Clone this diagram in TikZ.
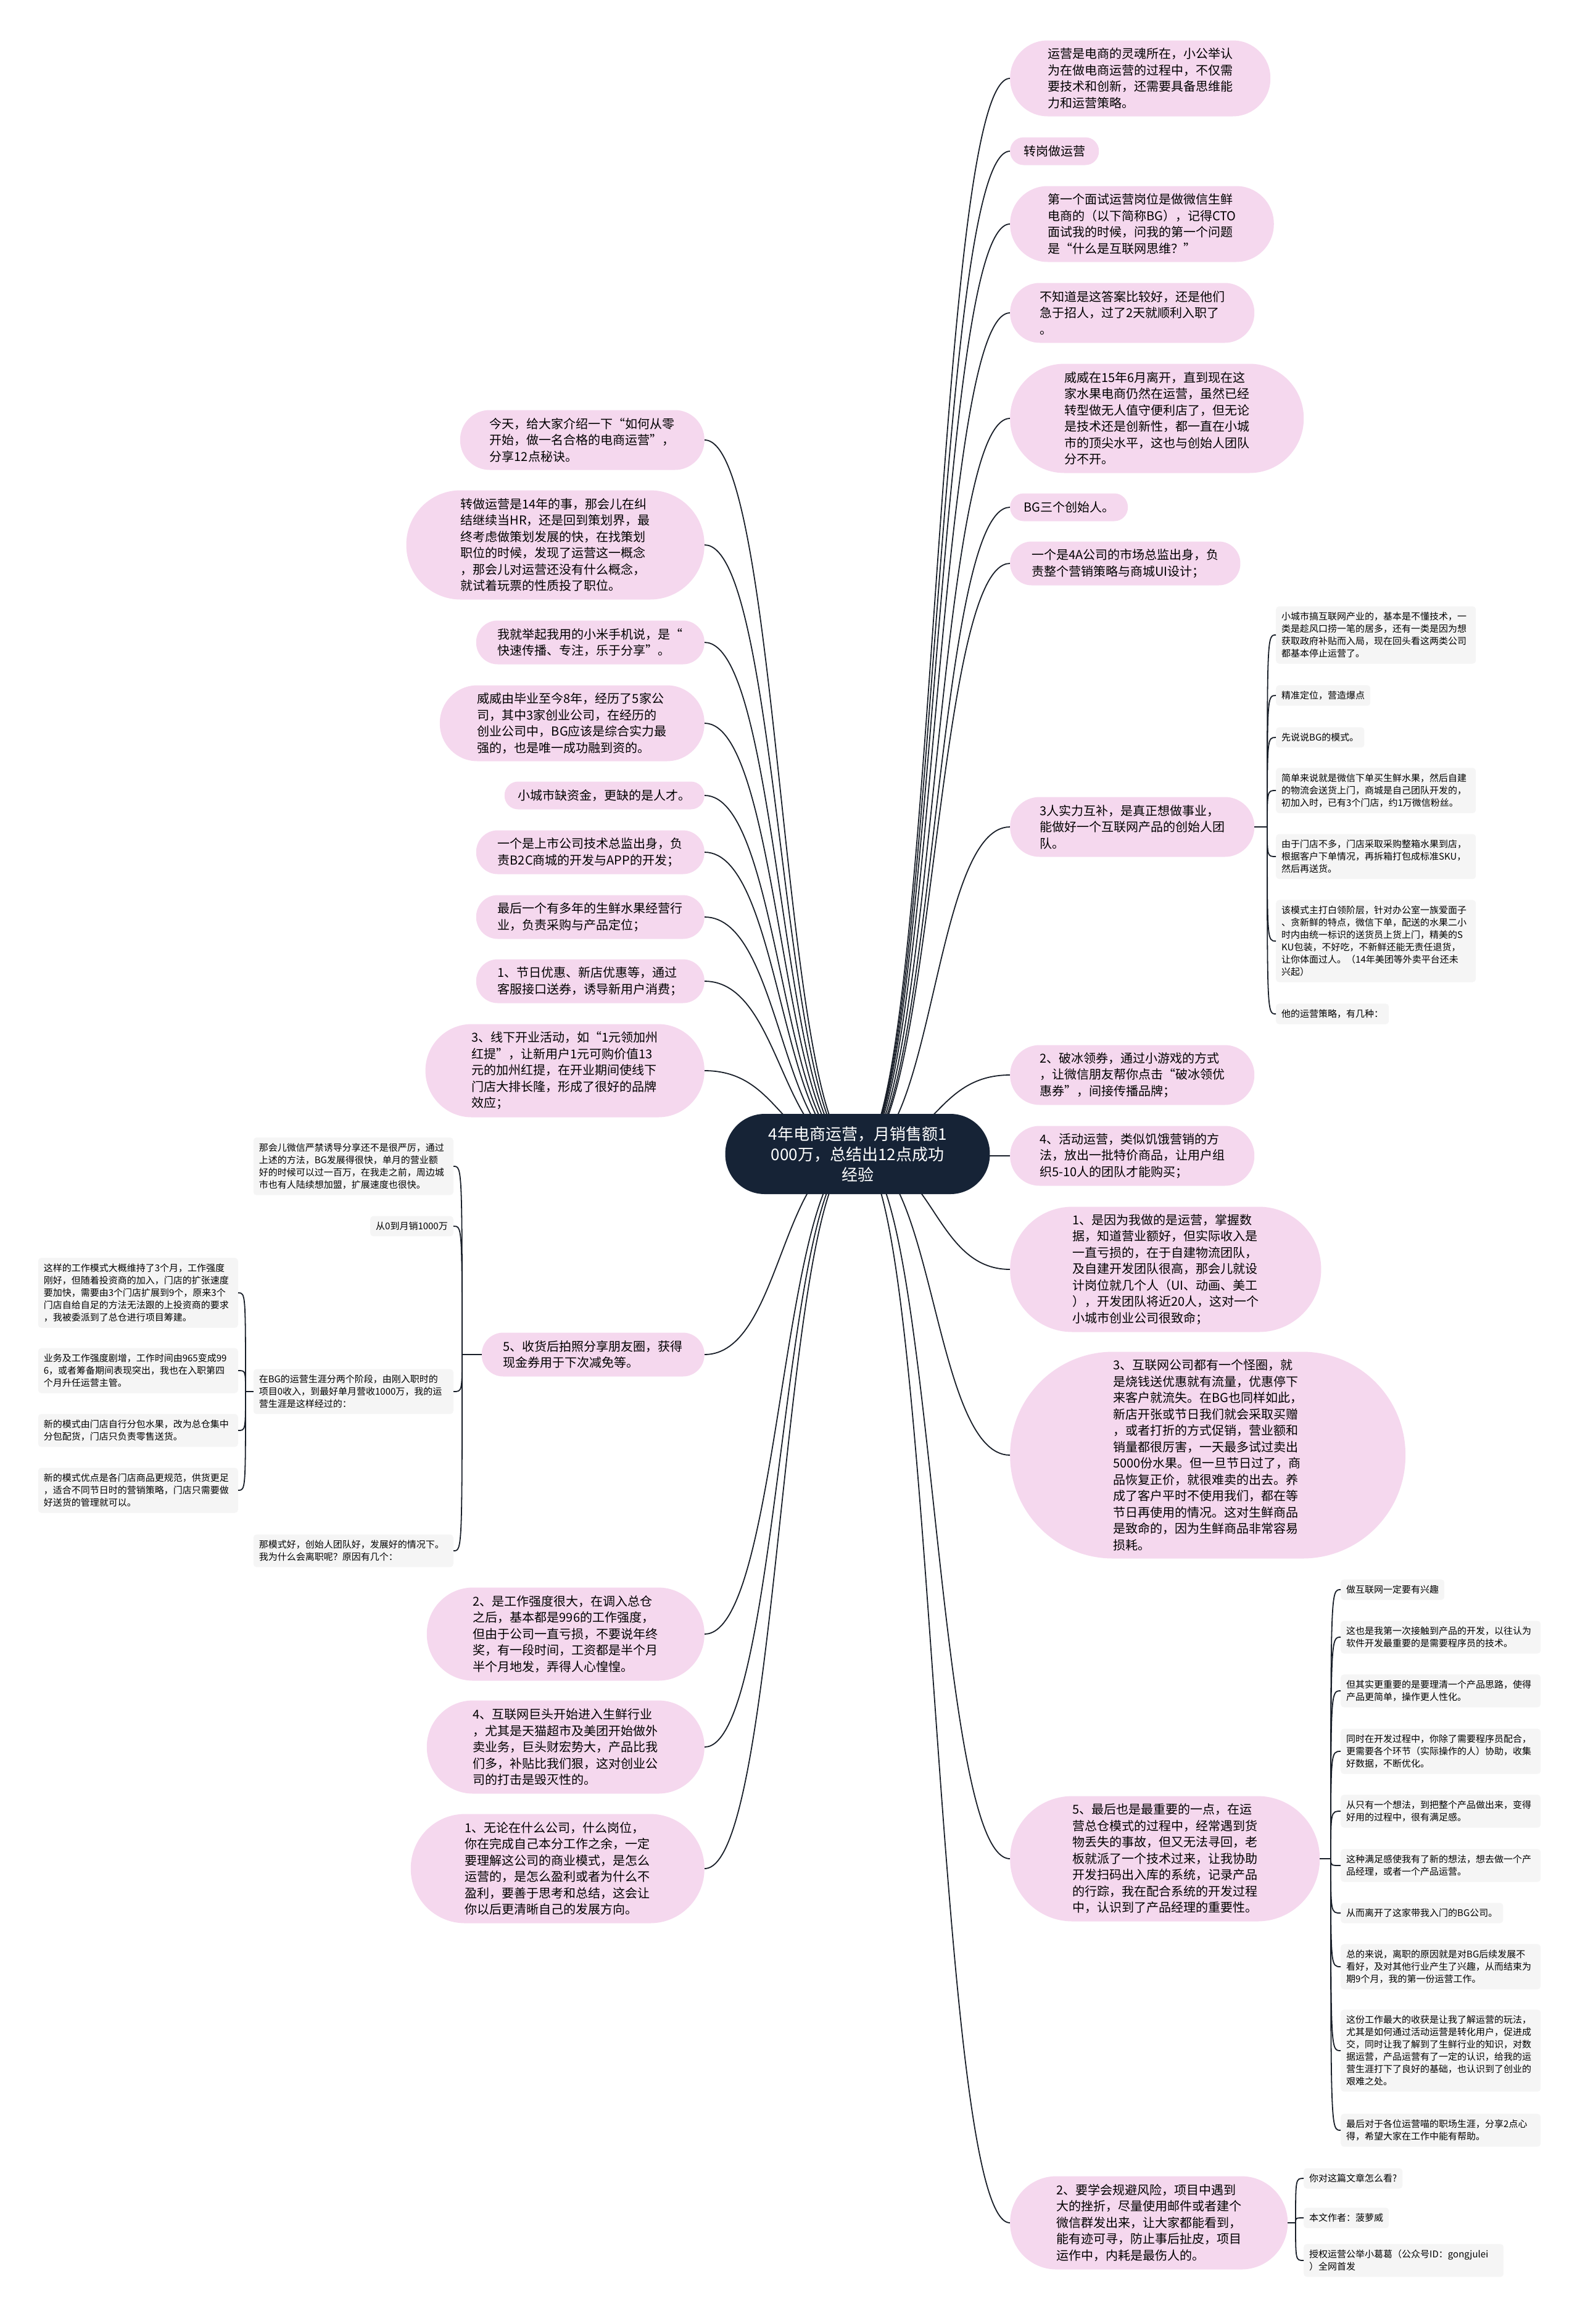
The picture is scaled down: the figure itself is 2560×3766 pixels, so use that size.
\documentclass[tikz,border=0pt]{standalone}
\usepackage{fontspec}
\setmainfont{Noto Sans CJK SC}
\usepackage{tikz}
\definecolor{rootblue}{RGB}{22, 35, 54}
\definecolor{petal}{RGB}{245, 216, 238}
\definecolor{notegray}{RGB}{245, 245, 245}
\definecolor{linkdark}{RGB}{24, 30, 40}
\usetikzlibrary{calc, backgrounds, positioning}

\begin{document}
\begin{tikzpicture}[
        x=1pt, y=-1pt,
        rootnode/.style={rectangle, rounded corners=64pt, minimum height=130pt, inner xsep=70pt, inner ysep=0pt, fill=rootblue, text=white, align=center, font=\fontsize{26}{33}\selectfont},
        topic/.style={rectangle, rounded corners=#1, inner xsep=#1, minimum height=2*#1+1pt, inner ysep=0pt, fill=petal, align=left, font=\fontsize{20}{26.5}\selectfont},
        note/.style={rectangle, rounded corners=5pt, fill=notegray, align=left, inner xsep=9pt, inner ysep=9.5pt, font=\fontsize{15}{20}\selectfont},
        notewide/.style={note, text width=306pt},
        link/.style={draw=linkdark, line width=1.8pt}
    ]
        \useasboundingbox (0,0) rectangle (2560,3766);

        % Root
        \node[rootnode] (root) at (1390,1870) {4年电商运营，月销售额1\\000万，总结出12点成功\\经验};

        % Right topics
        \node[topic=61pt, anchor=west] (r1) at (1637,127) {运营是电商的灵魂所在，小公举认\\为在做电商运营的过程中，不仅需\\要技术和创新，还需要具备思维能\\力和运营策略。};
        \node[topic=22pt, anchor=west] (r2) at (1637,245) {转岗做运营};
        \node[topic=61pt, anchor=west] (r3) at (1637,363) {第一个面试运营岗位是做微信生鲜\\电商的（以下简称BG），记得CTO\\面试我的时候，问我的第一个问题\\是“什么是互联网思维？”};
        \node[topic=48pt, anchor=west] (r4) at (1637,507) {不知道是这答案比较好，还是他们\\急于招人，过了2天就顺利入职了\\。};
        \node[topic=88pt, anchor=west] (r5) at (1637,678) {威威在15年6月离开，直到现在这\\家水果电商仍然在运营，虽然已经\\转型做无人值守便利店了，但无论\\是技术还是创新性，都一直在小城\\市的顶尖水平，这也与创始人团队\\分不开。};
        \node[topic=22pt, anchor=west] (r6) at (1637,822) {BG三个创始人。};
        \node[topic=35pt, anchor=west] (r7) at (1637,913) {一个是4A公司的市场总监出身，负\\责整个营销策略与商城UI设计；};
        \node[topic=48pt, anchor=west] (r8) at (1637,1340) {3人实力互补，是真正想做事业，\\能做好一个互联网产品的创始人团\\队。};
        \node[topic=48pt, anchor=west] (r9) at (1637,1742) {2、破冰领券，通过小游戏的方式\\，让微信朋友帮你点击“破冰领优\\惠券”，间接传播品牌；};
        \node[topic=48pt, anchor=west] (r10) at (1637,1873) {4、活动运营，类似饥饿营销的方\\法，放出一批特价商品，让用户组\\织5-10人的团队才能购买；};
        \node[topic=101pt, anchor=west] (r11) at (1637,2057) {1、是因为我做的是运营，掌握数\\据，知道营业额好，但实际收入是\\一直亏损的，在于自建物流团队，\\及自建开发团队很高，那会儿就设\\计岗位就几个人（UI、动画、美工\\），开发团队将近20人，这对一个\\小城市创业公司很致命；};
        \node[topic=167pt, anchor=west] (r12) at (1637,2358) {3、互联网公司都有一个怪圈，就\\是烧钱送优惠就有流量，优惠停下\\来客户就流失。在BG也同样如此，\\新店开张或节日我们就会采取买赠\\，或者打折的方式促销，营业额和\\销量都很厉害，一天最多试过卖出\\5000份水果。但一旦节日过了，商\\品恢复正价，就很难卖的出去。养\\成了客户平时不使用我们，都在等\\节日再使用的情况。这对生鲜商品\\是致命的，因为生鲜商品非常容易\\损耗。};
        \node[topic=101pt, anchor=west] (r13) at (1637,3012) {5、最后也是最重要的一点，在运\\营总仓模式的过程中，经常遇到货\\物丢失的事故，但又无法寻回，老\\板就派了一个技术过来，让我协助\\开发扫码出入库的系统，记录产品\\的行踪，我在配合系统的开发过程\\中，认识到了产品经理的重要性。};
        \node[topic=75pt, anchor=west] (r14) at (1637,3602) {2、要学会规避风险，项目中遇到\\大的挫折，尽量使用邮件或者建个\\微信群发出来，让大家都能看到，\\能有迹可寻，防止事后扯皮，项目\\运作中，内耗是最伤人的。};

        % Left topics
        \node[topic=48pt, anchor=east] (l1) at (1142,713) {今天，给大家介绍一下“如何从零\\开始，做一名合格的电商运营”，\\分享12点秘诀。};
        \node[topic=88pt, anchor=east] (l2) at (1142,883) {转做运营是14年的事，那会儿在纠\\结继续当HR，还是回到策划界，最\\终考虑做策划发展的快，在找策划\\职位的时候，发现了运营这一概念\\，那会儿对运营还没有什么概念，\\就试着玩票的性质投了职位。};
        \node[topic=35pt, anchor=east] (l3) at (1142,1041) {我就举起我用的小米手机说，是“\\快速传播、专注，乐于分享”。};
        \node[topic=61pt, anchor=east] (l4) at (1142,1172) {威威由毕业至今8年，经历了5家公\\司，其中3家创业公司，在经历的\\创业公司中，BG应该是综合实力最\\强的，也是唯一成功融到资的。};
        \node[topic=22pt, anchor=east] (l5) at (1142,1289) {小城市缺资金，更缺的是人才。};
        \node[topic=35pt, anchor=east] (l6) at (1142,1381) {一个是上市公司技术总监出身，负\\责B2C商城的开发与APP的开发；};
        \node[topic=35pt, anchor=east] (l7) at (1142,1486) {最后一个有多年的生鲜水果经营行\\业，负责采购与产品定位；};
        \node[topic=35pt, anchor=east] (l8) at (1142,1590) {1、节日优惠、新店优惠等，通过\\客服接口送券，诱导新用户消费；};
        \node[topic=75pt, anchor=east] (l9) at (1142,1735) {3、线下开业活动，如“1元领加州\\红提”，让新用户1元可购价值13\\元的加州红提，在开业期间使线下\\门店大排长隆，形成了很好的品牌\\效应；};
        \node[topic=35pt, anchor=east] (l10) at (1142,2195) {5、收货后拍照分享朋友圈，获得\\现金券用于下次减免等。};
        \node[topic=75pt, anchor=east] (l11) at (1142,2648) {2、是工作强度很大，在调入总仓\\之后，基本都是996的工作强度，\\但由于公司一直亏损，不要说年终\\奖，有一段时间，工资都是半个月\\半个月地发，弄得人心惶惶。};
        \node[topic=75pt, anchor=east] (l12) at (1142,2831) {4、互联网巨头开始进入生鲜行业\\，尤其是天猫超市及美团开始做外\\卖业务，巨头财宏势大，产品比我\\们多，补贴比我们狠，这对创业公\\司的打击是毁灭性的。};
        \node[topic=88pt, anchor=east] (l13) at (1142,3028) {1、无论在什么公司，什么岗位，\\你在完成自己本分工作之余，一定\\要理解这公司的商业模式，是怎么\\运营的，是怎么盈利或者为什么不\\盈利，要善于思考和总结，这会让\\你以后更清晰自己的发展方向。};

        % Notes of r8
        \node[notewide, anchor=west] (c1) at (2068,1029) {小城市搞互联网产业的，基本是不懂技术，一\\类是趁风口捞一笔的居多，还有一类是因为想\\获取政府补贴而入局，现在回头看这两类公司\\都基本停止运营了。};
        \node[note, anchor=west] (c2) at (2068,1127) {精准定位，营造爆点};
        \node[note, anchor=west] (c3) at (2068,1195) {先说说BG的模式。};
        \node[notewide, anchor=west] (c4) at (2068,1281) {简单来说就是微信下单买生鲜水果，然后自建\\的物流会送货上门，商城是自己团队开发的，\\初加入时，已有3个门店，约1万微信粉丝。};
        \node[notewide, anchor=west] (c5) at (2068,1388) {由于门店不多，门店采取采购整箱水果到店，\\根据客户下单情况，再拆箱打包成标准SKU，\\然后再送货。};
        \node[notewide, anchor=west] (c6) at (2068,1525) {该模式主打白领阶层，针对办公室一族爱面子\\、贪新鲜的特点，微信下单，配送的水果二小\\时内由统一标识的送货员上货上门，精美的S\\KU包装，不好吃，不新鲜还能无责任退货，\\让你体面过人。（14年美团等外卖平台还未\\兴起）};
        \node[note, anchor=west] (c7) at (2068,1643) {他的运营策略，有几种：};

        % Notes of l10
        \node[notewide, anchor=east] (b1) at (735,1890) {那会儿微信严禁诱导分享还不是很严厉，通过\\上述的方法，BG发展得很快，单月的营业额\\好的时候可以过一百万，在我走之前，周边城\\市也有人陆续想加盟，扩展速度也很快。};
        \node[note, anchor=east] (b2) at (735,1987) {从0到月销1000万};
        \node[notewide, anchor=east] (b3) at (735,2255) {在BG的运营生涯分两个阶段，由刚入职时的\\项目0收入，到最好单月营收1000万，我的运\\营生涯是这样经过的：};
        \node[notewide, anchor=east] (b4) at (735,2513) {那模式好，创始人团队好，发展好的情况下。\\我为什么会离职呢？原因有几个：};

        % Notes of b3
        \node[notewide, anchor=east] (d1) at (386,2095) {这样的工作模式大概维持了3个月，工作强度\\刚好，但随着投资商的加入，门店的扩张速度\\要加快，需要由3个门店扩展到9个，原来3个\\门店自给自足的方法无法跟的上投资商的要求\\，我被委派到了总仓进行项目筹建。};
        \node[notewide, anchor=east] (d2) at (386,2221) {业务及工作强度剧增，工作时间由965变成99\\6，或者筹备期间表现突出，我也在入职第四\\个月升任运营主管。};
        \node[notewide, anchor=east] (d3) at (386,2318) {新的模式由门店自行分包水果，改为总仓集中\\分包配货，门店只负责零售送货。};
        \node[notewide, anchor=east] (d4) at (386,2415) {新的模式优点是各门店商品更规范，供货更足\\，适合不同节日时的营销策略，门店只需要做\\好送货的管理就可以。};

        % Notes of r13
        \node[note, anchor=west] (e1) at (2173,2576) {做互联网一定要有兴趣};
        \node[notewide, anchor=west] (e2) at (2173,2653) {这也是我第一次接触到产品的开发，以往认为\\软件开发最重要的是需要程序员的技术。};
        \node[notewide, anchor=west] (e3) at (2173,2740) {但其实更重要的是要理清一个产品思路，使得\\产品更简单，操作更人性化。};
        \node[notewide, anchor=west] (e4) at (2173,2838) {同时在开发过程中，你除了需要程序员配合，\\更需要各个环节（实际操作的人）协助，收集\\好数据，不断优化。};
        \node[notewide, anchor=west] (e5) at (2173,2935) {从只有一个想法，到把整个产品做出来，变得\\好用的过程中，很有满足感。};
        \node[notewide, anchor=west] (e6) at (2173,3023) {这种满足感使我有了新的想法，想去做一个产\\品经理，或者一个产品运营。};
        \node[note, anchor=west] (e7) at (2173,3100) {从而离开了这家带我入门的BG公司。};
        \node[notewide, anchor=west] (e8) at (2173,3187) {总的来说，离职的原因就是对BG后续发展不\\看好，及对其他行业产生了兴趣，从而结束为\\期9个月，我的第一份运营工作。};
        \node[notewide, anchor=west] (e9) at (2173,3323) {这份工作最大的收获是让我了解运营的玩法，\\尤其是如何通过活动运营是转化用户，促进成\\交，同时让我了解到了生鲜行业的知识，对数\\据运营，产品运营有了一定的认识，给我的运\\营生涯打下了良好的基础，也认识到了创业的\\艰难之处。};
        \node[notewide, anchor=west] (e10) at (2173,3452) {最后对于各位运营喵的职场生涯，分享2点心\\得，希望大家在工作中能有帮助。};

        % Notes of r14
        \node[note, anchor=west] (f1) at (2113,3530) {你对这篇文章怎么看?};
        \node[note, anchor=west] (f2) at (2113,3594) {本文作者：菠萝威};
        \node[notewide, anchor=west] (f3) at (2113,3663) {授权运营公举小葛葛（公众号ID：gongjulei\\）全网首发};

        % Links
        \begin{scope}[on background layer]
            \foreach \i in {1,...,14} {
                \draw[link] let \p1=(root.center), \p2=(r\i.west) in
                    (\p1) .. controls ({0.5*\x1+0.5*\x2},\y1) and ({0.5*\x1+0.5*\x2},\y2) .. (\p2);
            }
            \foreach \i in {1,...,13} {
                \draw[link] let \p1=(root.center), \p2=(l\i.east) in
                    (\p1) .. controls ({0.5*\x1+0.5*\x2},\y1) and ({0.5*\x1+0.5*\x2},\y2) .. (\p2);
            }
        \end{scope}

        % Brackets
        \coordinate (j8) at (2054,1340);
        \coordinate (j10) at (749,2195);
        \coordinate (jb3) at (398,2255);
        \coordinate (j13) at (2157,3012);
        \coordinate (j14) at (2100,3602);
        \foreach \i in {1,...,7}
            \draw[link] (r8.east) -- (j8) .. controls (j8 |- c\i.west) .. (c\i.west);
        \foreach \i in {1,...,4}
            \draw[link] (l10.west) -- (j10) .. controls (j10 |- b\i.east) .. (b\i.east);
        \foreach \i in {1,...,4}
            \draw[link] (b3.west) -- (jb3) .. controls (jb3 |- d\i.east) .. (d\i.east);
        \foreach \i in {1,...,10}
            \draw[link] (r13.east) -- (j13) .. controls (j13 |- e\i.west) .. (e\i.west);
        \foreach \i in {1,...,3}
            \draw[link] (r14.east) -- (j14) .. controls (j14 |- f\i.west) .. (f\i.west);
    \end{tikzpicture}
\end{document}
